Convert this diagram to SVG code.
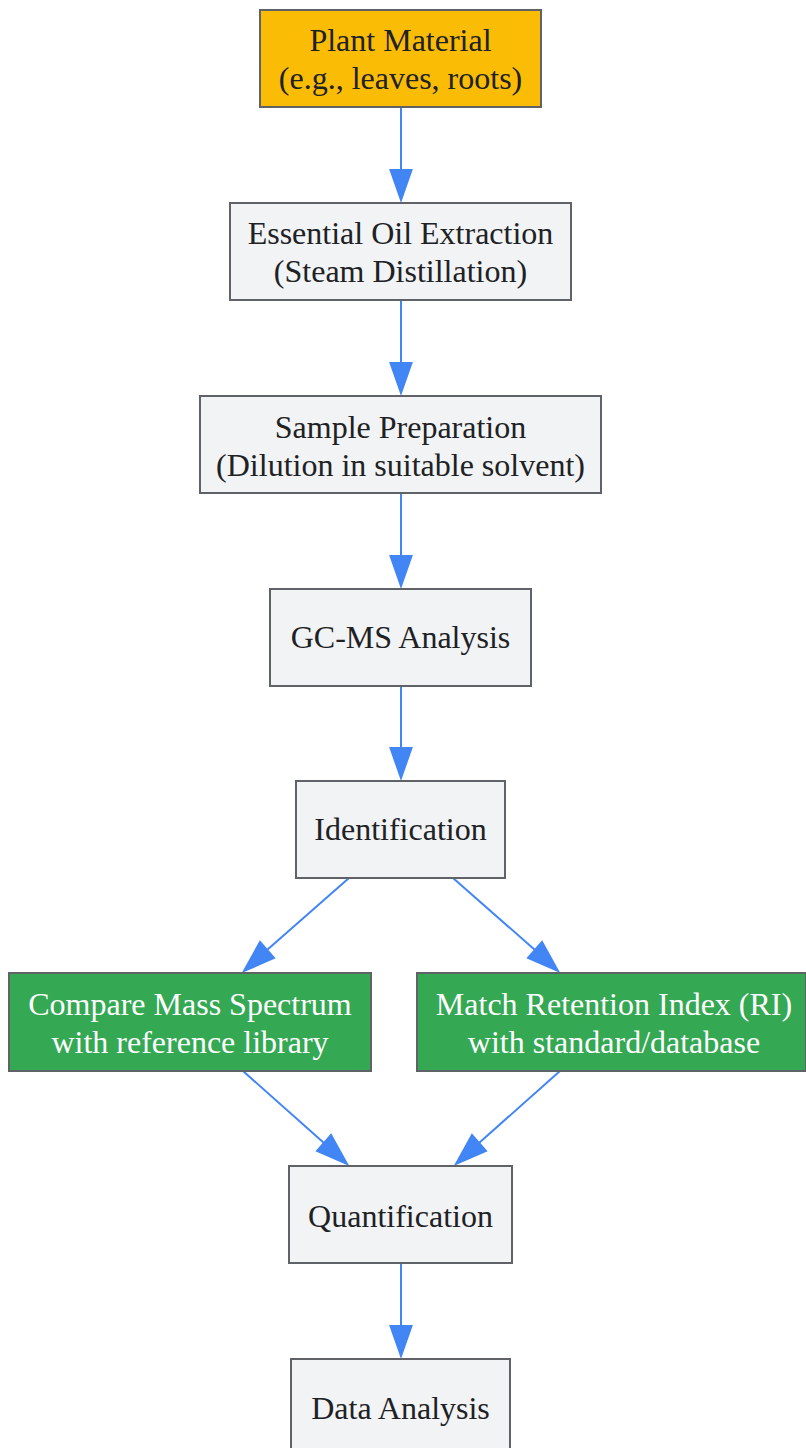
<svg xmlns="http://www.w3.org/2000/svg" width="806" height="1448" viewBox="0 0 806 1448">
<defs>
<style>
.n rect{fill:#f1f3f4;stroke:#5f6368;stroke-width:2}
.y rect{fill:#fbbc05}
.g rect{fill:#34a853}
text{font-family:"Liberation Serif","Times New Roman",serif;font-size:32px;fill:#202124;text-anchor:middle}
.g text{fill:#ffffff}
.e line{stroke:#4285f4;stroke-width:2}
.e polygon{fill:#4285f4;stroke:#4285f4;stroke-width:2}
</style>
</defs>
<rect width="806" height="1448" fill="#ffffff"/>
<g class="e" id="edges">
<line x1="401" y1="107" x2="401" y2="170"/><polygon points="390.5,170 411.5,170 401,200"/>
<line x1="401" y1="300" x2="401" y2="363"/><polygon points="390.5,363 411.5,363 401,393"/>
<line x1="401" y1="493" x2="401" y2="556"/><polygon points="390.5,556 411.5,556 401,586"/>
<line x1="401" y1="686" x2="401" y2="748"/><polygon points="390.5,748 411.5,748 401,778"/>
<line x1="349" y1="878" x2="267" y2="950"/><polygon points="260,942 274,958 244,971"/>
<line x1="453" y1="878" x2="535" y2="950"/><polygon points="542,942 528,958 558,971"/>
<line x1="243" y1="1071" x2="324" y2="1143"/><polygon points="317,1151 331,1135 347,1164"/>
<line x1="560" y1="1071" x2="479" y2="1143"/><polygon points="486,1151 472,1135 456,1164"/>
<line x1="401" y1="1263" x2="401" y2="1326"/><polygon points="390.5,1326 411.5,1326 401,1356"/>
</g>
<g class="n y" id="plant"><rect x="260" y="10" width="281" height="97"/><text x="400.5" y="51">Plant Material</text><text x="400.5" y="89">(e.g., leaves, roots)</text></g>
<g class="n" id="extract"><rect x="230" y="203" width="341" height="97"/><text x="400.5" y="244">Essential Oil Extraction</text><text x="400.5" y="282">(Steam Distillation)</text></g>
<g class="n" id="prep"><rect x="200" y="396" width="401" height="97"/><text x="400.5" y="438">Sample Preparation</text><text x="400.5" y="476">(Dilution in suitable solvent)</text></g>
<g class="n" id="gcms"><rect x="270" y="589" width="261" height="97"/><text x="400.5" y="648">GC-MS Analysis</text></g>
<g class="n" id="ident"><rect x="296" y="781" width="209" height="97"/><text x="400.5" y="840">Identification</text></g>
<g class="n g" id="compare"><rect x="9" y="973" width="362" height="98"/><text x="190" y="1015">Compare Mass Spectrum</text><text x="190" y="1053">with reference library</text></g>
<g class="n g" id="match"><rect x="417" y="973" width="389" height="98"/><text x="614" y="1015">Match Retention Index (RI)</text><text x="614" y="1053">with standard/database</text></g>
<g class="n" id="quant"><rect x="289" y="1166" width="223" height="97"/><text x="400.5" y="1227">Quantification</text></g>
<g class="n" id="data"><rect x="291" y="1359" width="219" height="97"/><text x="400.5" y="1419">Data Analysis</text></g>
</svg>
